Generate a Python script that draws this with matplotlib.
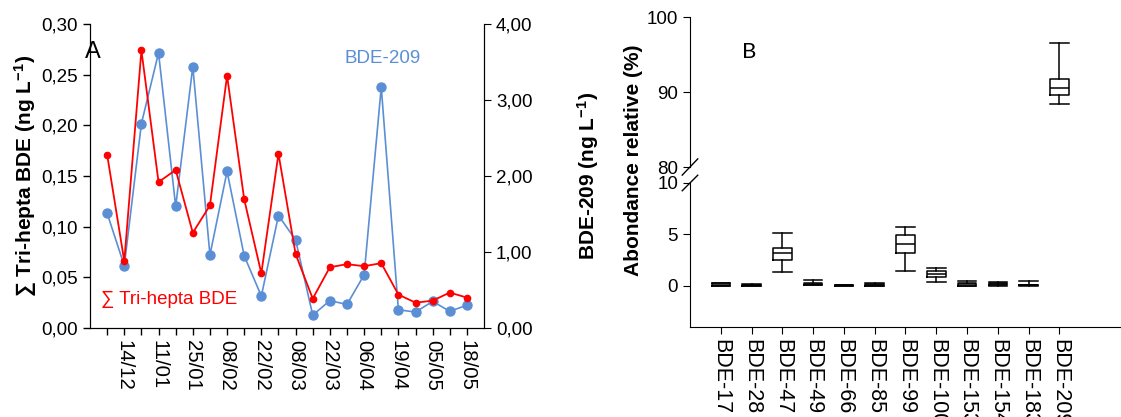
import numpy as np
import matplotlib
matplotlib.use('Agg')
import matplotlib.pyplot as plt
from matplotlib.ticker import FuncFormatter

plt.rcParams['font.family'] = ['Liberation Sans', 'DejaVu Sans']
plt.rcParams['mathtext.fontset'] = 'custom'
plt.rcParams['mathtext.rm'] = 'Liberation Sans'
plt.rcParams['mathtext.bf'] = 'Liberation Sans:bold'
plt.rcParams['mathtext.default'] = 'bf'

# Panel A data (22 sampling dates, every other one labelled)
date_labels = ['14/12', '11/01', '25/01', '08/02', '22/02', '08/03',
               '22/03', '06/04', '19/04', '05/05', '18/05']
tri_hepta = [0.171, 0.066, 0.274, 0.144, 0.156, 0.094, 0.121, 0.249, 0.127, 0.054, 0.172,
             0.073, 0.029, 0.060, 0.063, 0.061, 0.064, 0.033, 0.025, 0.027, 0.035, 0.030]
bde209 = [1.51, 0.82, 2.69, 3.62, 1.60, 3.44, 0.96, 2.06, 0.95, 0.42, 1.48,
          1.16, 0.17, 0.36, 0.31, 0.70, 3.17, 0.24, 0.21, 0.35, 0.22, 0.30]

# Panel B data (relative abundance, %)
congeners = ['BDE-17', 'BDE-28', 'BDE-47', 'BDE-49', 'BDE-66', 'BDE-85',
             'BDE-99', 'BDE-100', 'BDE-153', 'BDE-154', 'BDE-183', 'BDE-209']
whis_lo = [0.0, 0.0, 1.33, 0.05, 0.0, 0.0, 1.46, 0.39, 0.0, 0.0, 0.0, 88.4]
q1 = [0.02, 0.02, 2.5, 0.1, 0.02, 0.02, 3.2, 0.84, 0.02, 0.05, 0.05, 89.6]
median = [0.12, 0.06, 3.24, 0.2, 0.05, 0.1, 4.1, 1.17, 0.15, 0.2, 0.08, 90.6]
q3 = [0.25, 0.12, 3.66, 0.3, 0.08, 0.22, 4.9, 1.46, 0.3, 0.32, 0.1, 91.7]
whis_hi = [0.3, 0.15, 5.1, 0.58, 0.1, 0.3, 5.7, 1.78, 0.52, 0.38, 0.45, 96.6]

red = '#ff0000'
blue = '#5b8fd5'
fs = 13.5

fig = plt.figure(figsize=(11.21, 4.17), dpi=100)

# ---- Panel A ----
ax = fig.add_axes([0.0803, 0.2134, 0.3515, 0.729])
x = np.arange(len(tri_hepta))
ax.plot(x, tri_hepta, color=red, lw=1.3, marker='o', ms=4.5, zorder=3)
ax.set_ylim(0, 0.30)
ax.set_xlim(-1, len(x))
ax.set_yticks(np.arange(0, 0.31, 0.05))
ax.yaxis.set_major_formatter(FuncFormatter(lambda v, p: f'{v:.2f}'.replace('.', ',')))
ax.set_xticks(x)
xlabs = [''] * len(x)
for i, d in enumerate(date_labels):
    xlabs[2 * i + 1] = d
ax.set_xticklabels(xlabs, rotation=-90, fontsize=14.7)
ax.tick_params(axis='both', direction='out', length=5, width=1)
ax.tick_params(axis='y', labelsize=fs)
ax.spines['top'].set_visible(False)
ax.set_ylabel('∑ Tri-hepta BDE (ng L$^{-1}$)', fontsize=15, fontweight='bold', labelpad=2)

ax2 = ax.twinx()
ax2.plot(x, bde209, color=blue, lw=1.2, marker='o', ms=6.5, zorder=2)
ax2.set_ylim(0, 4)
ax2.set_yticks(np.arange(0, 4.01, 1))
ax2.yaxis.set_major_formatter(FuncFormatter(lambda v, p: f'{v:.2f}'.replace('.', ',')))
ax2.tick_params(axis='y', direction='out', length=5, labelsize=fs)
ax2.spines['top'].set_visible(False)
ax2.set_ylabel('BDE-209 (ng L$^{-1}$)', fontsize=15, fontweight='bold', labelpad=31)
ax.set_zorder(ax2.get_zorder() + 1)
ax.patch.set_visible(False)

ax.text(-1.3, 0.272, 'A', fontsize=17, va='center', ha='left')
ax.text(0.647, 0.885, 'BDE-209', color=blue, fontsize=fs, transform=ax.transAxes, ha='left', va='center')
ax.text(-0.35, 0.028, '∑ Tri-hepta BDE', color=red, fontsize=fs, ha='left', va='center')

# ---- Panel B (broken axis) ----
axu = fig.add_axes([0.6155, 0.5995, 0.3845, 0.3597])
axl = fig.add_axes([0.6155, 0.2158, 0.3845, 0.3454])
stats = [dict(whislo=a, q1=b, med=c, q3=d, whishi=e, fliers=[])
         for a, b, c, d, e in zip(whis_lo, q1, median, q3, whis_hi)]
pos = np.arange(len(congeners))
for a in (axu, axl):
    a.bxp(stats, positions=pos, widths=0.6, capwidths=0.6, showfliers=False,
          boxprops=dict(color='black', lw=1.1), whiskerprops=dict(color='black', lw=1.1),
          capprops=dict(color='black', lw=1.1), medianprops=dict(color='black', lw=1.1))
    a.set_xlim(-1, 13)
    a.spines['top'].set_visible(False)
    a.spines['right'].set_visible(False)
    a.tick_params(axis='y', direction='out', length=5, labelsize=fs)

axu.set_ylim(80, 100)
axu.set_yticks([80, 90, 100])
axu.spines['bottom'].set_visible(False)
axu.tick_params(axis='x', bottom=False, labelbottom=False)

axl.set_ylim(-4, 10)
axl.set_yticks([0, 5, 10])
axl.set_xticks(pos)
axl.set_xticklabels(congeners, rotation=-90, fontsize=15.5)
axl.tick_params(axis='x', direction='out', length=5)

# break marks
d = 0.018
kw = dict(color='black', lw=1, clip_on=False)
axu.plot([-d, d], [-d * 3, d * 3], transform=axu.transAxes, **kw)
axl.plot([-d, d], [1 - d * 3, 1 + d * 3], transform=axl.transAxes, **kw)

axu.text(0.12, 0.767, 'B', fontsize=16, family='Lato', va='center', transform=axu.transAxes)
fig.text(0.565, 0.616, 'Abondance relative (%)', rotation=90, fontsize=15,
         fontweight='bold', ha='center', va='center')

fig.savefig('out.png', dpi=100)
